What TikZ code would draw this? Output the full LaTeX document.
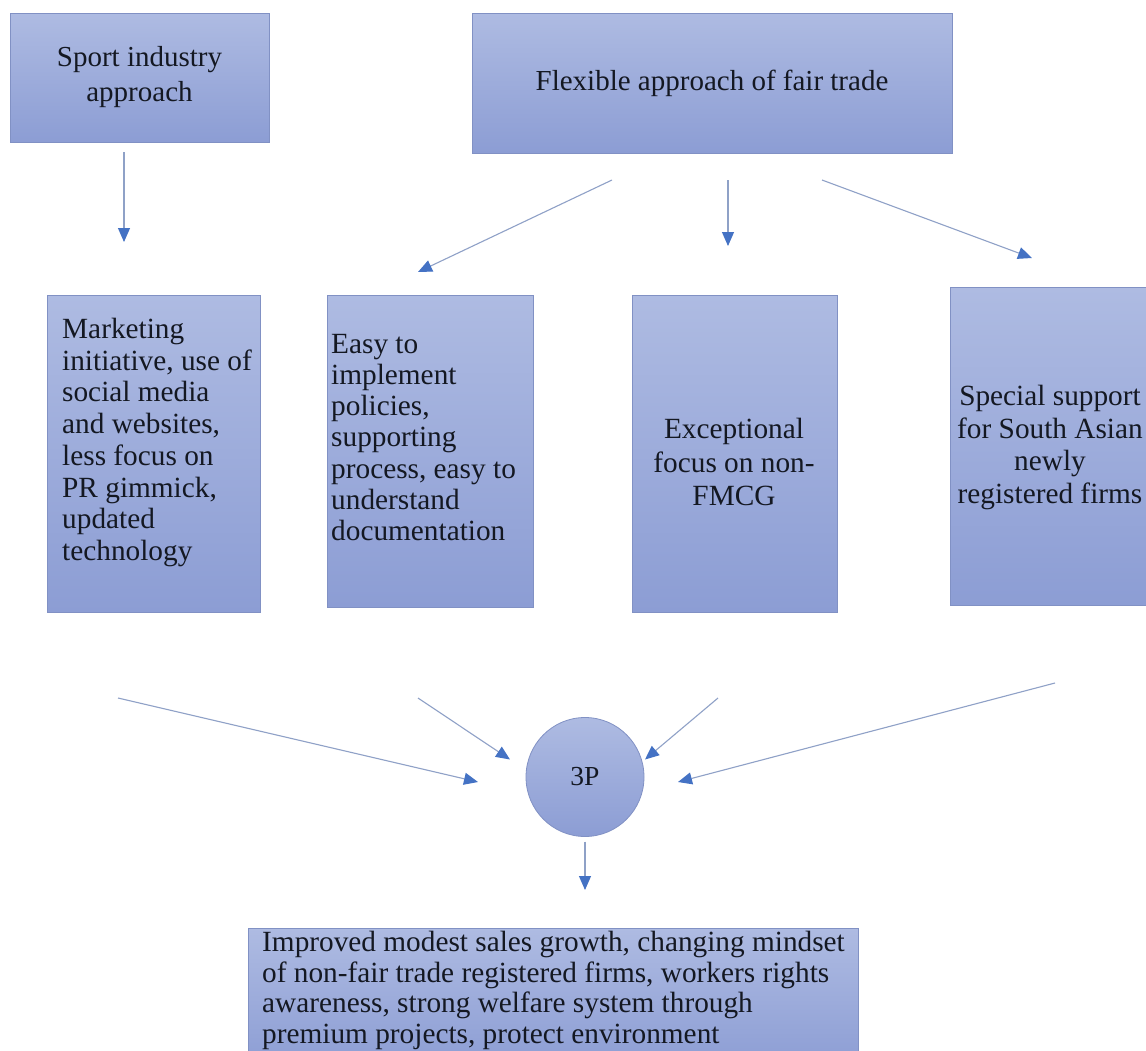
\documentclass[tikz,border=0pt]{standalone}
\usepackage{fontspec}
\setmainfont{Liberation Serif}
\usetikzlibrary{arrows.meta,calc,shapes.geometric}
\definecolor{boxtop}{HTML}{AEBBE2}
\definecolor{boxbot}{HTML}{8C9DD4}
\definecolor{boxline}{HTML}{8191C4}
\definecolor{arrline}{HTML}{8FA1C7}
\definecolor{tipblue}{HTML}{4472C4}
\definecolor{txt}{HTML}{141822}
\tikzset{
  panel/.style={draw=boxline, line width=0.8pt, top color=boxtop, bottom color=boxbot,
    inner sep=0pt, outer sep=0pt, rectangle},
  oval/.style={ellipse, draw=boxline, line width=0.8pt, top color=boxtop, bottom color=boxbot,
    inner sep=0pt, outer sep=0pt, minimum width=118pt, minimum height=119pt,
    text=txt, font=\fontsize{27.5pt}{31.5pt}\selectfont},
  bigtxt/.style={inner sep=0pt, text=txt, font=\fontsize{29pt}{35pt}\selectfont, align=center},
  midtxt/.style={inner sep=0pt, text=txt, font=\fontsize{29.3pt}{#1}\selectfont},
  arr/.style={draw=arrline, line width=1.1pt, -{Triangle[length=14pt,width=12pt,color=tipblue]}},
}
\begin{document}
\begin{tikzpicture}[x=1pt,y=-1pt]
\useasboundingbox[fill=white] (0,0) rectangle (1146,1050);
% boxes
\node[panel, minimum width=259pt, minimum height=129pt] (sport) at (139.5,77.5) {};
\node[panel, minimum width=480pt, minimum height=140pt] (flex) at (712,83) {};
\node[panel, minimum width=213pt, minimum height=317pt] (mkt) at (153.5,453.5) {};
\node[panel, minimum width=206pt, minimum height=312pt] (easy) at (430,451) {};
\node[panel, minimum width=205pt, minimum height=317pt] (exc) at (734.5,453.5) {};
\node[panel, minimum width=210pt, minimum height=318pt] (spec) at (1055,446) {};
\node[panel, minimum width=610pt, minimum height=140pt] (res) at (553,998) {};
\node[oval] (p3) at (585,777) {3P};
% texts
\node[bigtxt] (sportT) at (sport.center) {Sport industry\\approach};
\node[bigtxt] (flexT) at (flex.center) {Flexible approach of fair trade};
\node[midtxt=31.7pt, align=left, anchor=north west] (mktT) at (62,318) {Marketing\\initiative, use of\\social media\\and websites,\\less focus on\\PR gimmick,\\updated\\technology};
\node[midtxt=31.2pt, align=left, anchor=north west] (easyT) at (331,334) {Easy to\\implement\\policies,\\supporting\\process, easy to\\understand\\documentation};
\node[midtxt=33.5pt, align=center, anchor=north] (excT) at (734,418) {Exceptional\\focus on non-\\FMCG};
\node[midtxt=32.7pt, align=center, anchor=north] (specT) at (1050,385) {Special support\\for South Asian\\newly\\registered firms};
\node[midtxt=30.5pt, align=left, anchor=north west] (resT) at (262,931) {Improved modest sales growth, changing mindset\\of non-fair trade registered firms, workers rights\\awareness, strong welfare system through\\premium projects, protect environment};
% connectors
\draw[arr] ($(sport.south)+(-15.5,10)$) -- ($(mkt.north)+(-29.5,-53)$);
\draw[arr] ($(flex.south)+(-100,27)$) -- ($(easy.north)+(-12,-23)$);
\draw[arr] ($(flex.south)+(16,27)$) -- ($(exc.north)+(-6.5,-49)$);
\draw[arr] ($(flex.south)+(110,27)$) -- ($(spec.north)+(-23,-29)$);
\draw[arr] ($(mkt.south)+(-35.5,86)$) -- ($(p3.west)+(-48,5)$);
\draw[arr] ($(easy.south)+(-12,91)$) -- ($(p3.north)+(-75,42)$);
\draw[arr] ($(exc.south)+(-16.5,86)$) -- ($(p3.north)+(60,42)$);
\draw[arr] ($(spec.south)+(0,78)$) -- ($(p3.east)+(34,5)$);
\draw[arr] ($(p3.south)+(0,5)$) -- ($(res.north)+(32,-38)$);
\end{tikzpicture}
\end{document}
